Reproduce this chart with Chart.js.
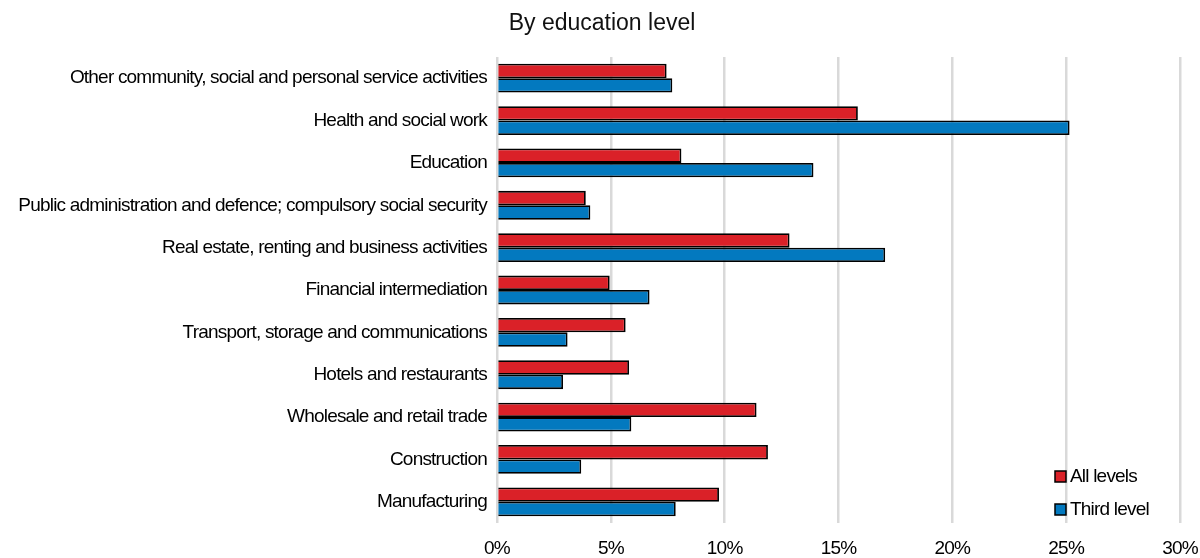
<!DOCTYPE html>
<html lang="en">
<head>
    <meta charset="UTF-8">
    <title>By education level</title>
    <style>
        html, body { margin: 0; padding: 0; background: #fff; }
        .chart-box { width: 1200px; height: 558px; }
    </style>
    <script src="https://cdn.jsdelivr.net/npm/chart.js"></script>
</head>
<body>
    <div class="chart-box">
        <canvas id="eduChart" width="1200" height="558"></canvas>
    </div>

    <script>
        // categories, top to bottom as in the picture
        const categories = [
            'Other community, social and personal service activities',
            'Health and social work',
            'Education',
            'Public administration and defence; compulsory social security',
            'Real estate, renting and business activities',
            'Financial intermediation',
            'Transport, storage and communications',
            'Hotels and restaurants',
            'Wholesale and retail trade',
            'Construction',
            'Manufacturing'
        ];

        // shares, in %
        const allLevels  = [7.45, 15.85, 8.1, 3.9, 12.85, 4.95, 5.65, 5.8, 11.4, 11.9, 9.75];
        const thirdLevel = [7.7, 25.15, 13.9, 4.1, 17.05, 6.7, 3.1, 2.9, 5.9, 3.7, 7.85];

        const seriesNames = ['All levels', 'Third level'];
        const xTicks = [0, 5, 10, 15, 20, 25, 30];
        const chartTitle = 'By education level';

        const RED = '#da2128';
        const BLUE = '#0379bf';
        const FONT = '"Liberation Sans", Arial, sans-serif';
        const TIGHT = '-0.8px';

        // tight lettering like the original
        const tightTextPlugin = {
            id: 'tightText',
            beforeDraw(chart) {
                chart.ctx.letterSpacing = TIGHT;
            }
        };

        // title (normal spacing) and the small legend in the lower right corner
        const titleAndLegend = {
            id: 'titleAndLegend',
            afterDraw(chart) {
                const ctx = chart.ctx;
                const area = chart.chartArea;
                ctx.save();
                ctx.letterSpacing = '0px';
                ctx.fillStyle = '#111';
                ctx.font = '23px ' + FONT;
                ctx.textAlign = 'center';
                ctx.textBaseline = 'middle';
                ctx.fillText(chartTitle, chart.width / 2 + 2, 24);

                ctx.letterSpacing = TIGHT;
                ctx.font = '19px ' + FONT;
                ctx.textAlign = 'left';
                chart.data.datasets.forEach((ds, i) => {
                    const y = area.bottom - 46 + i * 33;
                    const x = area.right - 125;
                    ctx.fillStyle = ds.backgroundColor;
                    ctx.fillRect(x, y - 6, 11, 11);
                    ctx.strokeStyle = '#000';
                    ctx.lineWidth = 1.5;
                    ctx.strokeRect(x, y - 6, 11, 11);
                    ctx.fillStyle = '#000';
                    ctx.fillText(ds.label, x + 15, y);
                });
                ctx.restore();
            }
        };

        Chart.register(tightTextPlugin, titleAndLegend);

        const data = {
            labels: categories,
            datasets: [
                {
                    label: seriesNames[0],
                    data: allLevels,
                    backgroundColor: RED,
                    borderColor: '#000',
                    borderWidth: 1.8
                },
                {
                    label: seriesNames[1],
                    data: thirdLevel,
                    backgroundColor: BLUE,
                    borderColor: '#000',
                    borderWidth: 1.8
                }
            ]
        };

        const options = {
            indexAxis: 'y',
            responsive: false,
            animation: false,
            layout: {
                padding: { left: 6, right: 0, top: 57, bottom: 0 }
            },
            datasets: {
                bar: {
                    categoryPercentage: 0.68,
                    barPercentage: 1.0
                }
            },
            plugins: {
                legend: { display: false },
                tooltip: { enabled: false },
                title: { display: false }
            },
            scales: {
                x: {
                    min: 0,
                    max: 30,
                    afterBuildTicks(scale) {
                        scale.ticks = xTicks.map(v => ({ value: v }));
                    },
                    afterFit(scale) {
                        scale.paddingRight = 20;
                        scale.height = 35;
                    },
                    ticks: {
                        color: '#000',
                        padding: 16,
                        maxRotation: 0,
                        font: { family: FONT, size: 19, lineHeight: 1 },
                        callback: v => v + '%'
                    },
                    grid: {
                        color: '#d9d9d9',
                        lineWidth: 2.5,
                        drawTicks: false
                    },
                    border: { display: false }
                },
                y: {
                    afterFit(scale) {
                        scale.width = 491;
                    },
                    ticks: {
                        color: '#000',
                        padding: 10,
                        font: { family: FONT, size: 19 }
                    },
                    grid: { display: false, drawTicks: false },
                    border: { display: false }
                }
            }
        };

        const ctx = document.getElementById('eduChart').getContext('2d');
        new Chart(ctx, {
            type: 'bar',
            data: data,
            options: options
        });
    </script>
</body>
</html>
